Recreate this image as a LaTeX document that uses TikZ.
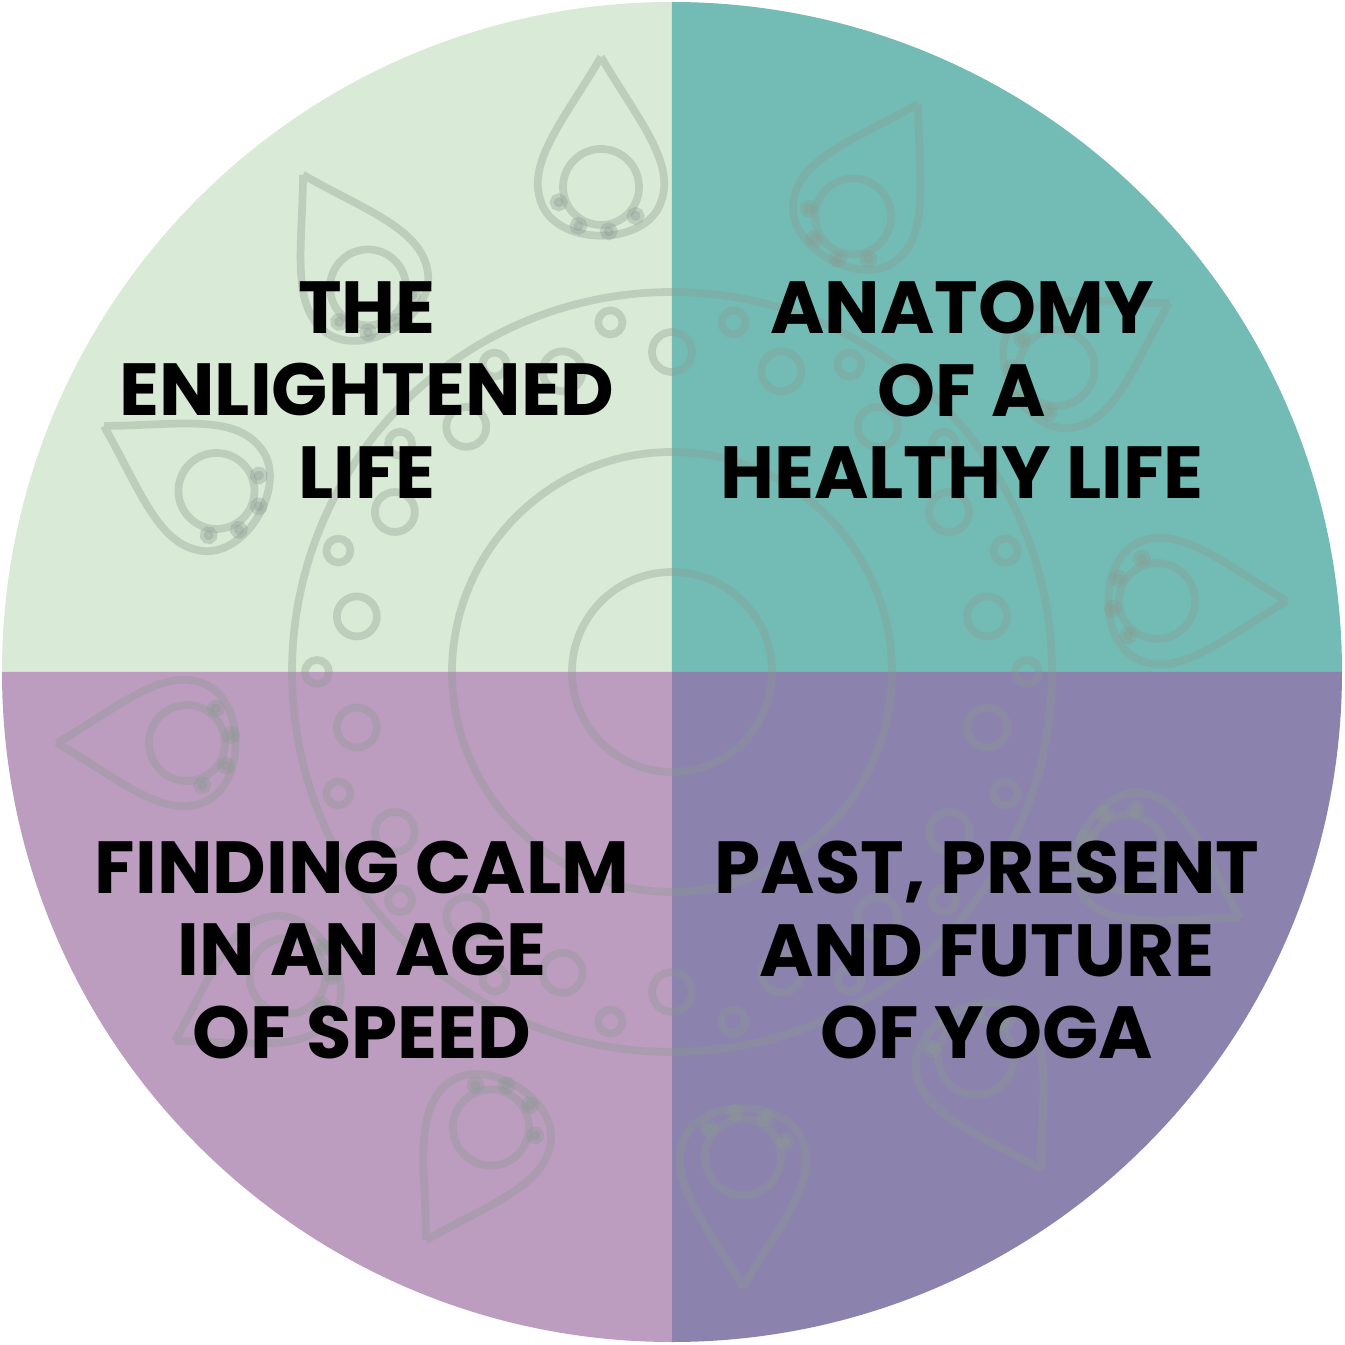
\documentclass[tikz,border=0pt]{standalone}
\usepackage{fontspec}
\setmainfont{Poppins}
\definecolor{enlight}{HTML}{D9EBD6}
\definecolor{anatomy}{HTML}{72BCB5}
\definecolor{calm}{HTML}{BC9DC0}
\definecolor{yoga}{HTML}{8B83AE}
\definecolor{drop}{HTML}{8A9A90}
\tikzset{
    quarter/.style={draw=none},
    title/.style={align=center,font=\bfseries\fontsize{21}{23.5}\selectfont,text=black},
    dropline/.style={draw=drop,line width=2.2pt,opacity=.35},
    pics/petal/.style={code={
        \path[dropline] (0,1.1) .. controls (.35,.5) and (.75,.05) .. (.6,-.35)
            .. controls (.45,-.8) and (-.45,-.8) .. (-.6,-.35)
            .. controls (-.75,.05) and (-.35,.5) .. (0,1.1);
        \path[dropline] (0,-.2) circle (.38);
        \foreach \a in {200,240,...,340}{\path[dropline,fill=drop] (\a:.45) ++(0,-.2) circle (.05);}
    }}
}
\begin{document}
\begin{tikzpicture}
\useasboundingbox (-6.72,-6.73) rectangle (6.72,6.72);
%quarters
\fill[enlight] (0,0) -- (180:6.7) arc (180:90:6.7) -- cycle;
\fill[anatomy] (0,0) -- (90:6.7) arc (90:0:6.7) -- cycle;
\fill[yoga] (0,0) -- (0:6.7) arc (0:-90:6.7) -- cycle;
\fill[calm] (0,0) -- (270:6.7) arc (270:180:6.7) -- cycle;
%mandala
\foreach \a in {0,30,...,330}{
    \pic[rotate=\a-90] at (\a+8:5.1) {petal};
}
\foreach \a in {0,20,...,340}{
    \path[dropline] (\a:3.55) circle (.12);
    \path[dropline] (\a+10:3.2) circle (.2);
}
\path[dropline] (0,0) circle (3.8);
\path[dropline] (0,0) circle (2.2);
\path[dropline] (0,0) circle (1.0);
%labels
\node[title] (enl) at (-3.05,2.82) {THE\\ENLIGHTENED\\LIFE};
\node[title] (ana) at (2.9,2.82) {ANATOMY\\OF A\\HEALTHY LIFE};
\node[title] (cal) at (-3.1,-2.78) {FINDING CALM\\IN AN AGE\\OF SPEED};
\node[title] (yog) at (3.15,-2.78) {PAST, PRESENT\\AND FUTURE\\OF YOGA};
\end{tikzpicture}
\end{document}
